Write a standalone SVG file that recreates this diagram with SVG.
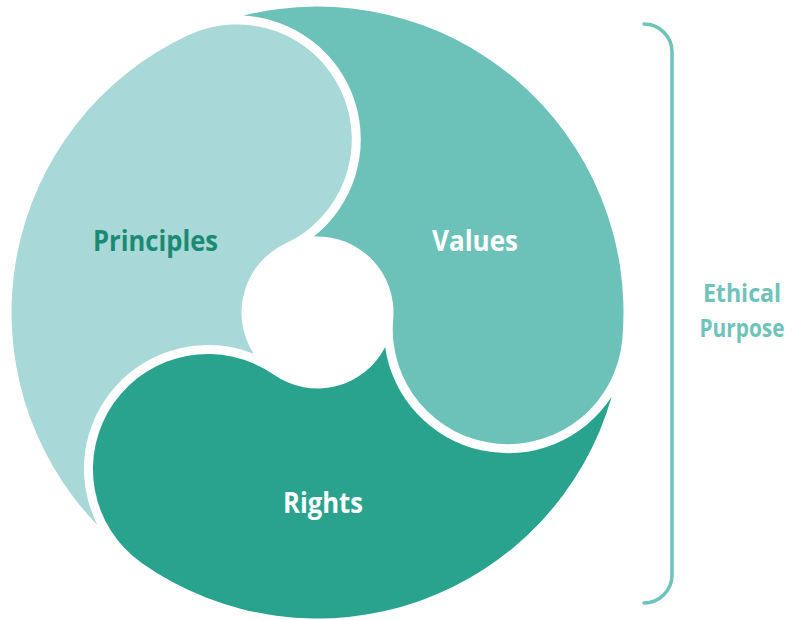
<svg xmlns="http://www.w3.org/2000/svg" xmlns:xlink="http://www.w3.org/1999/xlink" width="792" height="620" viewBox="0 0 792 620">
<style>
.lbl{font-family:"Open Sans","Noto Sans","Liberation Sans",sans-serif;font-weight:700;text-anchor:middle}
.big{font-size:29px}
.side{font-size:25px;fill:#6ec3ba}
.brace{fill:none;stroke:#6ec3ba;stroke-width:3.5;stroke-linecap:round}
</style>
<defs>
<path id="seg" d="M 306 0 A 115 115 0 0 1 191 115 A 115 115 0 0 1 76 0 A 76 76 0 0 0 -10.31 -75.30 A 124 124 0 0 0 -99.62 -289.33 A 306 306 0 0 1 306 0 Z"/>
</defs>
<rect width="792" height="620" fill="#ffffff"/>
<g id="principles">
<use href="#seg" xlink:href="#seg" transform="translate(317.5 312.5) rotate(-115)" fill="#a8d8d8"/>
<text class="lbl big" x="155.5" y="251" fill="#1b8a73" textLength="125" lengthAdjust="spacingAndGlyphs">Principles</text>
</g>
<g id="values">
<use href="#seg" xlink:href="#seg" transform="translate(317.5 312.5) rotate(5)" fill="#6cc2b9"/>
<text class="lbl big" x="475" y="251" fill="#ffffff" textLength="86" lengthAdjust="spacingAndGlyphs">Values</text>
</g>
<g id="rights">
<use href="#seg" xlink:href="#seg" transform="translate(317.5 312.5) rotate(125)" fill="#2aa38e"/>
<text class="lbl big" x="323" y="513" fill="#ffffff" textLength="80" lengthAdjust="spacingAndGlyphs">Rights</text>
</g>
<g id="ethical-purpose">
<path class="brace" d="M 644 24 A 28 28 0 0 1 672 52 L 672 575 A 28 28 0 0 1 644 603"/>
<g transform="translate(742 0) scale(0.85 1)">
<text class="lbl side" x="0" y="302.5" textLength="92" lengthAdjust="spacingAndGlyphs">Ethical</text>
<text class="lbl side" x="0" y="337" textLength="100" lengthAdjust="spacingAndGlyphs">Purpose</text>
</g>
</g>
</svg>
